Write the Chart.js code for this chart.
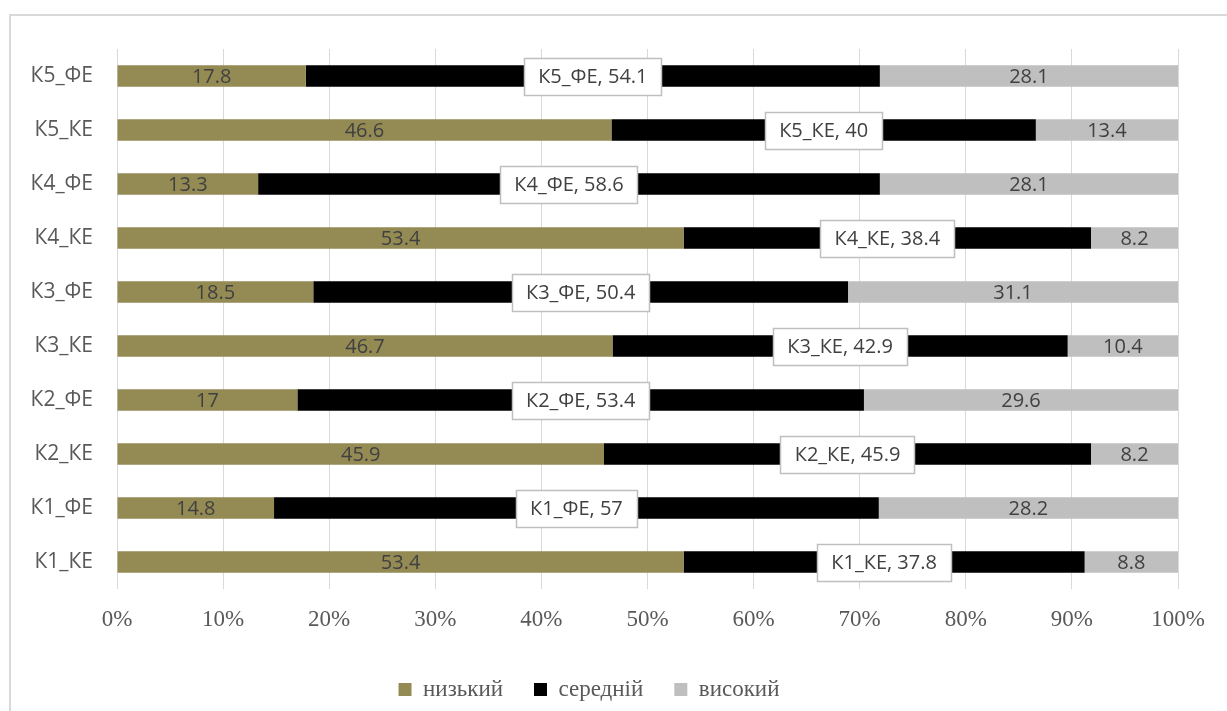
<!DOCTYPE html>
<html>
<head>
<meta charset="utf-8">
<script src="https://cdn.jsdelivr.net/npm/chart.js@4/dist/chart.umd.min.js"></script>
<style>
    html, body { margin: 0; padding: 0; background: #fff; overflow: hidden; }
    #frame { position: absolute; left: 9px; top: 14px; width: 1300px; height: 800px; border: 2px solid #d9d9d9; }
    #wrap { position: absolute; left: 0; top: 0; width: 1227px; height: 711px; }
</style>
</head>
<body>
<div id="frame"></div>
<div id="wrap"><canvas id="barChart"></canvas></div>
<script>
// категорії (зверху вниз)
const categories = ['К5_ФЕ', 'К5_КЕ', 'К4_ФЕ', 'К4_КЕ', 'К3_ФЕ', 'К3_КЕ', 'К2_ФЕ', 'К2_КЕ', 'К1_ФЕ', 'К1_КЕ'];
const seriesNames = ['низький', 'середній', 'високий'];
const lowValues  = [17.8, 46.6, 13.3, 53.4, 18.5, 46.7, 17, 45.9, 14.8, 53.4];
const midValues  = [54.1, 40, 58.6, 38.4, 50.4, 42.9, 53.4, 45.9, 57, 37.8];
const highValues = [28.1, 13.4, 28.1, 8.2, 31.1, 10.4, 29.6, 8.2, 28.2, 8.8];
const tickValues = [0, 10, 20, 30, 40, 50, 60, 70, 80, 90, 100];

const SANS = '"Open Sans", "Noto Sans", sans-serif';
const SERIF = '"Liberation Serif", "DejaVu Serif", serif';

// підписи значень всередині сегментів
const labelPlugin = {
    id: 'segmentLabels',
    afterDatasetsDraw(chart) {
        const ctx = chart.ctx;
        ctx.save();
        ctx.font = '20px ' + SANS;
        ctx.textAlign = 'center';
        ctx.textBaseline = 'middle';
        chart.data.datasets.forEach((ds, di) => {
            const meta = chart.getDatasetMeta(di);
            meta.data.forEach((bar, i) => {
                const cx = (bar.x + bar.base) / 2;
                const cy = bar.y;
                if (di === 1) {
                    const txt = categories[i] + ', ' + ds.data[i];
                    const w = Math.round(ctx.measureText(txt).width + 28);
                    const h = 37;
                    const x0 = Math.round(cx - w / 2), y0 = Math.round(cy - h / 2);
                    ctx.fillStyle = '#fff';
                    ctx.fillRect(x0, y0, w, h);
                    ctx.strokeStyle = '#bfbfbf';
                    ctx.lineWidth = 1.5;
                    ctx.strokeRect(x0 + 0.5, y0 + 0.5, w, h);
                    ctx.fillStyle = '#404040';
                    ctx.fillText(txt, cx, cy + 1);
                } else {
                    ctx.fillStyle = '#404040';
                    ctx.fillText(String(ds.data[i]), cx, cy + 1);
                }
            });
        });
        ctx.restore();
    }
};

const colors = ['#948a54', '#000000', '#bfbfbf'];
const values = [lowValues, midValues, highValues];

new Chart(document.getElementById('barChart'), {
    type: 'bar',
    data: {
        labels: categories,
        datasets: seriesNames.map((name, k) => ({
            label: name,
            data: values[k],
            backgroundColor: colors[k],
            borderWidth: 0,
            barPercentage: 0.4,
            categoryPercentage: 1
        }))
    },
    options: {
        indexAxis: 'y',
        responsive: true,
        maintainAspectRatio: false,
        animation: false,
        layout: { padding: { left: 0, right: 49, top: 49, bottom: 0 } },
        scales: {
            x: {
                stacked: true,
                min: 0,
                max: 100,
                afterBuildTicks(scale) { scale.ticks = tickValues.map(v => ({ value: v })); },
                afterFit(scale) { scale.height = 58; },
                ticks: {
                    padding: 17,
                    color: '#595959',
                    font: { family: SERIF, size: 23 },
                    callback: v => v + '%'
                },
                grid: { color: '#d9d9d9', lineWidth: 1, drawTicks: false, tickLength: 0 },
                border: { display: false }
            },
            y: {
                stacked: true,
                afterFit(scale) { scale.width = 117; },
                ticks: {
                    padding: 16,
                    color: '#595959',
                    font: { family: SANS, size: 21 }
                },
                grid: { display: false },
                border: { display: false }
            }
        },
        plugins: {
            legend: {
                position: 'bottom',
                labels: {
                    boxWidth: 13,
                    boxHeight: 13,
                    padding: 31,
                    color: '#595959',
                    font: { family: SERIF, size: 23 }
                }
            },
            tooltip: { enabled: false }
        }
    },
    plugins: [labelPlugin]
});
</script>
</body>
</html>
